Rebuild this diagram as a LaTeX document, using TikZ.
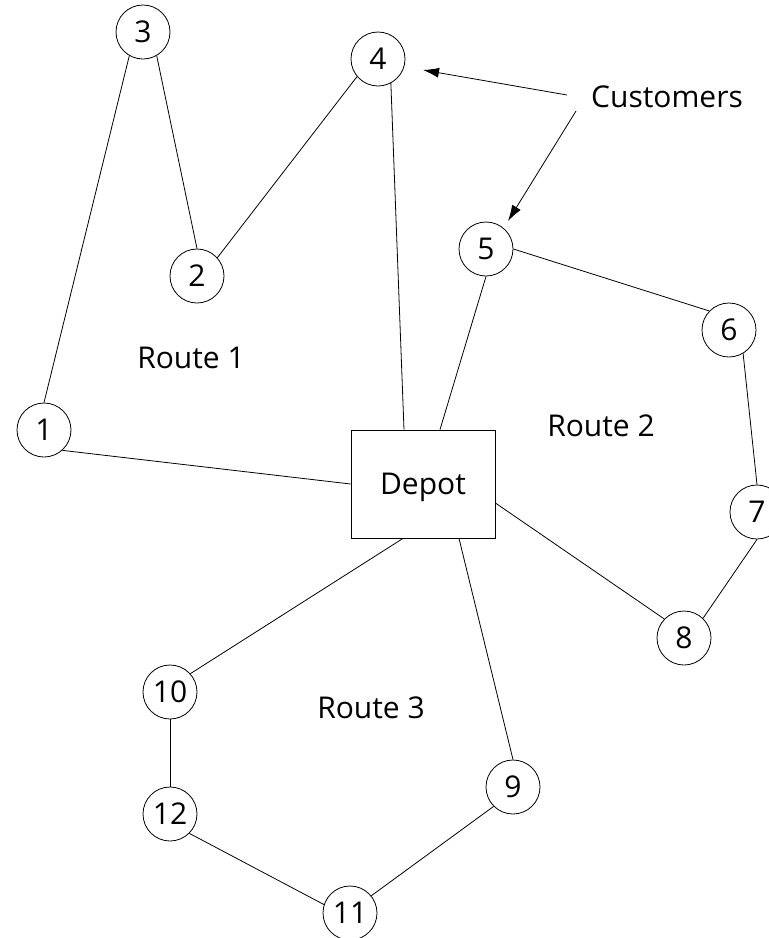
\documentclass[tikz,border=0pt]{standalone}
\usepackage{fontspec}
\setmainfont{Open Sans}
\usetikzlibrary{arrows.meta}
\begin{document}
\begin{tikzpicture}[x=1pt,y=-1pt,
  every node/.style={text depth=0pt,font=\fontsize{30}{36}\selectfont},
  stop/.style={circle,draw,line width=0.8pt,minimum size=54pt,inner sep=0pt},
  depotbox/.style={rectangle,draw,line width=0.8pt,minimum width=144pt,minimum height=108pt,inner sep=0pt},
  leg/.style={line width=0.8pt},
  pointer/.style={line width=0.8pt,-{Latex[length=16pt,width=10pt]}}]
  \useasboundingbox (0,0) rectangle (769,938);
  \clip (0,0) rectangle (769,938);

  % depot and customers
  \node[depotbox] (depot) at (423,484) {Depot};
  \node[stop] (n1) at (44,430) {1};
  \node[stop] (n2) at (197,276) {2};
  \node[stop] (n3) at (143,32) {3};
  \node[stop] (n4) at (378,59) {4};
  \node[stop] (n5) at (486,249) {5};
  \node[stop] (n6) at (729,330) {6};
  \node[stop] (n7) at (757,512) {7};
  \node[stop] (n8) at (684,638) {8};
  \node[stop] (n9) at (513,787) {9};
  \node[stop] (n10) at (170,692) {10};
  \node[stop] (n11) at (350,913) {11};
  \node[stop] (n12) at (170,814) {12};

  % route labels
  \node (r1) at (191,358) {Route 1};
  \node (r2) at (601,426) {Route 2};
  \node (r3) at (371,708) {Route 3};
  \node (cust) at (667,97) {Customers};

  % attachment points on the depot
  \coordinate (d4) at ([xshift=-19pt]depot.north);
  \coordinate (d5) at ([xshift=17pt]depot.north);
  \coordinate (d1) at (depot.west);
  \coordinate (d8) at ([yshift=-19pt]depot.east);
  \coordinate (d10) at ([xshift=-20pt]depot.south);
  \coordinate (d9) at ([xshift=36pt]depot.south);

  % route 1
  \draw[leg] (d1) -- (n1.-48);
  \draw[leg] (n1.north) -- (n3.240);
  \draw[leg] (n3.300) -- (n2.north);
  \draw[leg] (n2.42) -- (n4.220);
  \draw[leg] (n4.298) -- (d4);
  % route 2
  \draw[leg] (d5) -- (n5.south);
  \draw[leg] (n5.east) -- (n6.136);
  \draw[leg] (n6.-59) -- (n7.north);
  \draw[leg] (n7.south) -- (n8.46);
  \draw[leg] (n8.136) -- (d8);
  % route 3
  \draw[leg] (d10) -- (n10.42);
  \draw[leg] (n10.south) -- (n12.north);
  \draw[leg] (n12.-45) -- (n11.162);
  \draw[leg] (n11.39) -- (n9.225);
  \draw[leg] (n9.north) -- (d9);

  % pointers from the legend
  \coordinate (p1s) at (567,95);
  \coordinate (p1e) at (423,70);
  \coordinate (p2s) at (576,111);
  \coordinate (p2e) at (508,221);
  \draw[pointer] (p1s) -- (p1e);
  \draw[pointer] (p2s) -- (p2e);
\end{tikzpicture}
\end{document}
